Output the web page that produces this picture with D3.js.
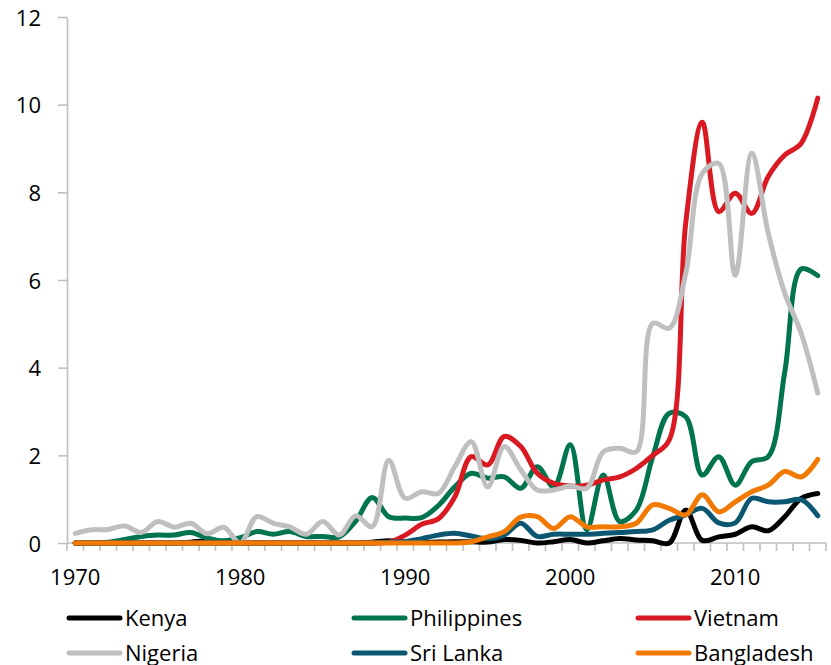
<!DOCTYPE html>
<html>
<head>
<meta charset="utf-8">
<script src="https://cdn.jsdelivr.net/npm/d3@7"></script>
<style>
  html, body { margin: 0; padding: 0; background: #fff; }
  svg { display: block; }
  text { font-family: "Open Sans", "Noto Sans", sans-serif; }
</style>
</head>
<body>
<svg id="chart" width="831" height="665"></svg>
<script>
const years = d3.range(1970, 2016);
const yTicks = [0, 2, 4, 6, 8, 10, 12];
const xTickLabels = [1970, 1980, 1990, 2000, 2010];

const seriesNames = ["Kenya", "Philippines", "Vietnam", "Nigeria", "Sri Lanka", "Bangladesh"];
const seriesColors = ["#000000", "#00734F", "#DA1A23", "#BFBFBF", "#0B5670", "#F27A00"];

const kenya = [0,0,0,0,0,0,0,0.02,0.05,0.02, 0,0,0,0,0,0,0,0,0.02,0.05,
  0.02,0.02,0.02,0.03,0.03,0.02,0.08,0.06,0,0.03, 0.08,0,0.05,0.1,0.07,0.05,0,0.75,0.06,0.14,
  0.2,0.37,0.28,0.6,1.02,1.13];
const philippines = [0,0,0.02,0.08,0.15,0.18,0.18,0.24,0.11,0.05, 0.12,0.26,0.2,0.26,0.15,0.15,0.14,0.5,1.04,0.6,
  0.57,0.58,0.85,1.28,1.59,1.48,1.51,1.25,1.74,1.28, 2.24,0.3,1.55,0.49,0.75,1.97,2.96,2.88,1.55,1.97,
  1.32,1.86,1.97,3.9,6.25,6.1];
const vietnam = [0,0,0,0,0,0,0,0,0,0, 0,0,0,0,0,0,0,0,0,0.02,
  0.18,0.43,0.55,1.05,1.97,1.78,2.43,2.2,1.59,1.36, 1.3,1.32,1.44,1.51,1.7,2.0,2.35,7.3,9.6,7.56,
  7.98,7.52,8.36,8.85,9.12,10.15];
const nigeria = [0.22,0.3,0.31,0.39,0.24,0.49,0.36,0.45,0.21,0.36, 0,0.6,0.45,0.37,0.2,0.49,0.18,0.62,0.37,1.89,
  1.02,1.17,1.13,1.74,2.31,1.28,2.2,1.67,1.21,1.21, 1.3,1.25,2.08,2.16,2.08,5.01,4.9,6.15,8.43,8.66,
  6.11,8.89,7.07,5.7,4.78,3.42];
const sriLanka = [0,0,0,0,0,0,0,0,0,0, 0,0,0,0,0,0,0,0,0,0.02,
  0.03,0.1,0.18,0.22,0.16,0.1,0.18,0.45,0.15,0.2, 0.2,0.2,0.22,0.24,0.26,0.3,0.52,0.64,0.79,0.46,
  0.46,1.02,0.94,0.94,0.99,0.62];
const bangladesh = [0,0,0,0,0,0,0,0,0,0, 0,0,0,0,0,0,0,0,0,0,
  0,0,0,0,0.03,0.14,0.26,0.59,0.6,0.33, 0.6,0.37,0.37,0.37,0.45,0.87,0.79,0.64,1.1,0.71,
  0.94,1.17,1.32,1.63,1.51,1.91];

const seriesValues = [kenya, philippines, vietnam, nigeria, sriLanka, bangladesh];

const svg = d3.select("#chart");
const axisColor = "#BFBFBF";

const x = d3.scaleBand().domain(years).range([67, 826]).padding(0);
const y = d3.scaleLinear().domain([0, 12]).range([543, 17]);
const cx = d => x(d) + x.bandwidth() / 2;

// Y axis
const yAxis = svg.append("g").attr("transform", "translate(67,0)")
  .call(d3.axisLeft(y).tickValues(yTicks).tickSize(9).tickSizeOuter(0).tickPadding(17).tickFormat(d3.format("d")));
yAxis.select(".domain").attr("stroke", axisColor).attr("stroke-width", 1.6);
yAxis.selectAll(".tick line").attr("stroke", axisColor).attr("stroke-width", 1.6);
yAxis.selectAll(".tick text").attr("font-size", 22).attr("fill", "#000")
  .attr("font-family", "'Open Sans', sans-serif").attr("dy", null).attr("y", 8);

// X axis line and category ticks
const xg = svg.append("g");
xg.append("line").attr("x1", x.range()[0]).attr("x2", x.range()[1])
  .attr("y1", y(0)).attr("y2", y(0)).attr("stroke", axisColor).attr("stroke-width", 1.6);
const boundaries = years.map(d => x(d)).concat([x.range()[1]]);
xg.selectAll("line.xt").data(boundaries).enter().append("line").attr("class", "xt")
  .attr("x1", d => d).attr("x2", d => d).attr("y1", y(0)).attr("y2", y(0) + 8)
  .attr("stroke", axisColor).attr("stroke-width", 1.6);

const xAxis = svg.append("g").attr("transform", `translate(0,${y(0)})`)
  .call(d3.axisBottom(x).tickValues(xTickLabels).tickSize(0).tickPadding(0));
xAxis.select(".domain").remove();
xAxis.selectAll(".tick text").attr("font-size", 22).attr("fill", "#000")
  .attr("font-family", "'Open Sans', sans-serif").attr("dy", null).attr("y", 42);

// Lines
const line = d3.line()
  .x((d, i) => cx(years[i]))
  .y(d => y(d))
  .curve(d3.curveCatmullRom.alpha(0.5));

svg.append("g").selectAll("path.series").data(seriesValues).enter().append("path")
  .attr("class", "series")
  .attr("d", d => line(d))
  .attr("fill", "none")
  .attr("stroke", (d, i) => seriesColors[i])
  .attr("stroke-width", 5)
  .attr("stroke-linejoin", "round")
  .attr("stroke-linecap", "round");

// Legend
const legendCols = [69, 354, 638];
const legendRows = [618, 653];
const legend = svg.append("g");
seriesNames.forEach((name, i) => {
  const lx = legendCols[i % 3];
  const ly = legendRows[Math.floor(i / 3)];
  const g = legend.append("g");
  g.append("line").attr("x1", lx).attr("x2", lx + 51).attr("y1", ly).attr("y2", ly)
    .attr("stroke", seriesColors[i]).attr("stroke-width", 5).attr("stroke-linecap", "round");
  g.append("text").attr("x", lx + 56).attr("y", ly + 7.5)
    .attr("font-size", 22).attr("fill", "#000").text(name);
});
</script>
</body>
</html>
